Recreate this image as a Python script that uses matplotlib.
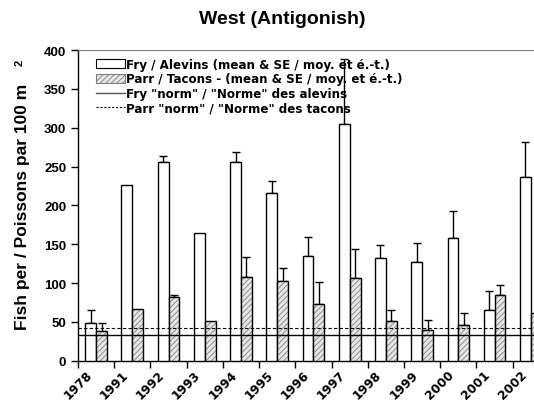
import numpy as np
import matplotlib.pyplot as plt
from matplotlib.patches import Patch
from matplotlib.lines import Line2D

plt.rcParams['font.family'] = ['Liberation Sans', 'DejaVu Sans']
plt.rcParams['font.weight'] = 'bold'
plt.rcParams['hatch.linewidth'] = 0.6

years = ['1978', '1991', '1992', '1993', '1994', '1995', '1996',
         '1997', '1998', '1999', '2000', '2001', '2002']
fry_mean = [48, 226, 256, 165, 256, 216, 135, 305, 132, 127, 158, 65, 236]
fry_se = [17, 0, 8, 0, 13, 15, 24, 83, 17, 25, 35, 25, 46]
parr_mean = [38, 67, 82, 51, 108, 103, 73, 107, 51, 39, 46, 85, 61]
parr_se = [10, 0, 3, 0, 26, 17, 28, 37, 14, 13, 15, 12, 0]
fry_norm = 33
parr_norm = 42

fig = plt.figure(figsize=(5.34, 4.06), dpi=100)
# axes run past the right edge, like the cropped original
ax = fig.add_axes([0.146, 0.109, 0.882, 0.765])

x = np.arange(len(years))
w = 0.3
fry_x = x + 0.2
parr_x = x + 0.5

ax.bar(fry_x, fry_mean, width=w, align='edge', facecolor='white',
       edgecolor='black', linewidth=1.0, zorder=3)
ax.bar(parr_x, parr_mean, width=w, align='edge', facecolor='#e6e6e6',
       edgecolor='#808080', hatch='//////', linewidth=0, zorder=3)
ax.bar(parr_x, parr_mean, width=w, align='edge', facecolor='none',
       edgecolor='black', linewidth=1.0, zorder=4)

fe = np.array(fry_se)
pe = np.array(parr_se)
m = fe > 0
ax.errorbar(fry_x[m] + w / 2, np.array(fry_mean)[m],
            yerr=[np.zeros(m.sum()), fe[m]], fmt='none', ecolor='black',
            elinewidth=1.0, capsize=3, capthick=1.0, zorder=2)
m = pe > 0
ax.errorbar(parr_x[m] + w / 2, np.array(parr_mean)[m],
            yerr=[np.zeros(m.sum()), pe[m]], fmt='none', ecolor='black',
            elinewidth=1.0, capsize=3, capthick=1.0, zorder=2)

ax.axhline(fry_norm, color='black', lw=1.0, zorder=5)
ax.axhline(parr_norm, color='black', lw=0.8, ls=(0, (3, 2)), zorder=5)

ax.set_xlim(0, 13)
ax.set_ylim(0, 400)
ax.set_yticks(np.arange(0, 401, 50))
ax.tick_params(axis='y', direction='out', length=5, width=1, labelsize=9.5)
ax.set_xticks(np.arange(0, 14))
ax.set_xticklabels([])
ax.tick_params(axis='x', direction='out', length=5, width=1)
ax.set_xticks(x + 0.2, minor=True)
ax.set_xticklabels(years, minor=True, rotation=45, ha='right',
                   rotation_mode='anchor', fontsize=8.8, fontweight='bold',
                   family='DejaVu Sans')
ax.tick_params(axis='x', which='minor', length=0, pad=5)

ax.spines['right'].set_visible(False)
ax.spines['top'].set_color('#808080')
ax.spines['left'].set_linewidth(1)
ax.spines['bottom'].set_linewidth(1)

fig.text(0.529, 1 - 20 / 406, 'West (Antigonish)', fontsize=14,
         fontweight='bold', ha='center', va='center')
ax.set_ylabel('Fish per / Poissons par 100 m', fontsize=12.5,
              fontweight='bold', labelpad=10)
fig.text(20 / 534, 1 - 63 / 406, '2', fontsize=8, fontweight='bold',
         rotation=90, ha='center', va='center')

handles = [
    Patch(facecolor='white', edgecolor='black', lw=0.8),
    Patch(facecolor='#e6e6e6', edgecolor='#808080', hatch='//////', lw=0.8),
    Line2D([0], [0], color='#555555', lw=1.0),
    Line2D([0], [0], color='black', lw=0.8, ls=(0, (2, 1.5))),
]
labels = [
    'Fry / Alevins (mean & SE / moy. et \u00e9.-t.)',
    'Parr / Tacons - (mean & SE / moy. et \u00e9.-t.)',
    'Fry "norm" / "Norme" des alevins',
    'Parr "norm" / "Norme" des tacons',
]
ax.legend(handles, labels, loc='upper left', bbox_to_anchor=(0.028, 0.99),
          frameon=False, handlelength=2.4, handleheight=0.8,
          handletextpad=0.15, labelspacing=0.12, borderaxespad=0,
          prop={'family': 'DejaVu Sans', 'weight': 'bold', 'size': 8.6})

plt.savefig('out.png', dpi=100)
